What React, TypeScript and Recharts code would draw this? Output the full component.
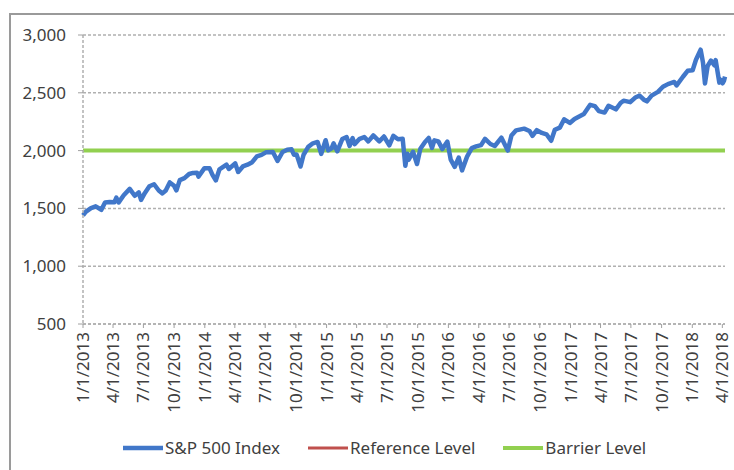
import { CartesianGrid, Line, LineChart, XAxis, YAxis } from 'recharts';

// S&P 500 closes (approximate)
const spxDates = [
    '2013-01-01', '2013-01-10', '2013-01-25', '2013-02-08', '2013-02-25', '2013-03-08', '2013-03-22',
    '2013-04-05', '2013-04-11', '2013-04-18', '2013-05-03', '2013-05-21', '2013-06-05', '2013-06-17',
    '2013-06-24', '2013-07-05', '2013-07-19', '2013-08-02', '2013-08-16', '2013-08-27', '2013-09-06',
    '2013-09-18', '2013-10-01', '2013-10-08', '2013-10-18', '2013-11-01', '2013-11-15', '2013-11-27',
    '2013-12-09', '2013-12-13', '2013-12-31', '2014-01-15', '2014-01-24', '2014-02-03', '2014-02-14',
    '2014-03-07', '2014-03-14', '2014-04-02', '2014-04-11', '2014-04-25', '2014-05-09', '2014-05-23',
    '2014-06-06', '2014-06-20', '2014-07-03', '2014-07-24', '2014-08-07', '2014-08-22', '2014-09-05',
    '2014-09-18', '2014-09-25', '2014-10-03', '2014-10-15', '2014-10-24', '2014-11-07', '2014-11-21',
    '2014-12-05', '2014-12-16', '2014-12-29', '2015-01-06', '2015-01-16', '2015-01-22', '2015-02-02',
    '2015-02-17', '2015-03-02', '2015-03-11', '2015-03-20', '2015-03-26', '2015-04-10', '2015-04-24',
    '2015-05-06', '2015-05-21', '2015-06-08', '2015-06-22', '2015-07-08', '2015-07-20', '2015-08-03',
    '2015-08-17', '2015-08-25', '2015-08-31', '2015-09-04', '2015-09-17', '2015-09-29', '2015-10-09',
    '2015-10-23', '2015-11-03', '2015-11-13', '2015-11-20', '2015-12-02', '2015-12-14', '2015-12-29',
    '2016-01-08', '2016-01-20', '2016-02-01', '2016-02-11', '2016-02-26', '2016-03-11', '2016-03-24',
    '2016-04-08', '2016-04-20', '2016-05-06', '2016-05-19', '2016-06-08', '2016-06-27', '2016-07-08',
    '2016-07-22', '2016-08-15', '2016-08-31', '2016-09-09', '2016-09-22', '2016-10-07', '2016-10-21',
    '2016-11-04', '2016-11-15', '2016-11-30', '2016-12-13', '2016-12-30', '2017-01-13', '2017-01-27',
    '2017-02-10', '2017-03-01', '2017-03-15', '2017-03-27', '2017-04-13', '2017-04-25', '2017-05-17',
    '2017-05-31', '2017-06-09', '2017-06-29', '2017-07-14', '2017-07-27', '2017-08-10', '2017-08-18',
    '2017-09-01', '2017-09-20', '2017-10-05', '2017-10-20', '2017-11-08', '2017-11-15', '2017-12-04',
    '2017-12-18', '2018-01-02', '2018-01-12', '2018-01-26', '2018-02-02', '2018-02-08', '2018-02-16',
    '2018-02-26', '2018-03-08', '2018-03-12', '2018-03-23', '2018-03-28', '2018-04-02', '2018-04-06',
    '2018-04-09',
];

const spxValues = [
    1440, 1472, 1503, 1518, 1488, 1551, 1556,
    1553, 1593, 1552, 1614, 1669, 1609, 1639,
    1573, 1632, 1692, 1709, 1655, 1630, 1655,
    1725, 1695, 1656, 1745, 1762, 1798, 1807,
    1808, 1775, 1848, 1848, 1790, 1742, 1838,
    1878, 1841, 1890, 1815, 1863, 1878, 1900,
    1950, 1963, 1985, 1988, 1910, 1988, 2007,
    2011, 1965, 1967, 1862, 1964, 2032, 2063,
    2075, 1972, 2090, 2002, 2019, 2063, 1994,
    2100, 2117, 2040, 2108, 2056, 2102, 2117,
    2080, 2131, 2080, 2122, 2046, 2128, 2098,
    2102, 1868, 1972, 1921, 1990, 1884, 2015,
    2075, 2109, 2023, 2089, 2080, 2013, 2078,
    1922, 1859, 1940, 1829, 1948, 2022, 2036,
    2047, 2102, 2057, 2040, 2112, 2000, 2130,
    2175, 2190, 2170, 2127, 2177, 2153, 2141,
    2085, 2180, 2199, 2271, 2239, 2274, 2295,
    2316, 2396, 2385, 2342, 2329, 2388, 2357,
    2412, 2432, 2419, 2459, 2475, 2438, 2426,
    2476, 2508, 2552, 2575, 2594, 2564, 2639,
    2690, 2695, 2786, 2873, 2762, 2581, 2732,
    2779, 2738, 2783, 2588, 2612, 2582, 2604,
    2640,
];

const referenceLevel = 2000;
const barrierLevel = 2000;

const tickDates = [
    '2013-01-01', '2013-04-01', '2013-07-01', '2013-10-01',
    '2014-01-01', '2014-04-01', '2014-07-01', '2014-10-01',
    '2015-01-01', '2015-04-01', '2015-07-01', '2015-10-01',
    '2016-01-01', '2016-04-01', '2016-07-01', '2016-10-01',
    '2017-01-01', '2017-04-01', '2017-07-01', '2017-10-01',
    '2018-01-01', '2018-04-01',
];
const yTicks = [500, 1000, 1500, 2000, 2500, 3000];

const series = [
    { key: 'spx', name: 'S&P 500 Index', color: '#4177c9', width: 4.5 },
    { key: 'ref', name: 'Reference Level', color: '#c0504d', width: 3 },
    { key: 'barrier', name: 'Barrier Level', color: '#92d050', width: 4 },
];

const ts = (s: string) => {
    const [y, m, d] = s.split('-').map(Number);
    return Date.UTC(y, m - 1, d);
};

const data = spxDates.map((d, i) => ({
    t: ts(d),
    spx: spxValues[i],
    ref: referenceLevel,
    barrier: barrierLevel,
}));

const fmtDate = (v: number) => {
    const d = new Date(v);
    return `${d.getUTCMonth() + 1}/${d.getUTCDate()}/${d.getUTCFullYear()}`;
};

const FONT = '"Noto Sans", sans-serif';
const TEXT = '#404040';

const DateTick = ({ x, y, payload }: any) => (
    <g transform={`translate(${x},${y})`}>
        <text x={0} y={6} transform="rotate(-90)" textAnchor="end" fill={TEXT} fontSize={17} fontFamily={FONT}>
            {fmtDate(payload.value)}
        </text>
    </g>
);

export default function App() {
    return (
        <div style={{ position: 'fixed', left: 0, top: 0, width: 734, height: 470, overflow: 'hidden', background: '#fff' }}>
            <div style={{ position: 'absolute', left: 9, top: 13, width: 800, height: 500, border: '2px solid #9a9a9a' }} />
            <div style={{ position: 'absolute', left: 0, top: 0 }}>
                <LineChart width={734} height={470} data={data} margin={{ top: 35, right: 9, left: 23, bottom: 46 }}>
                    <CartesianGrid vertical={false} stroke="#b0b0b0" strokeDasharray="3 2" strokeWidth={1.5} />
                    <XAxis
                        dataKey="t"
                        type="number"
                        domain={[ts('2013-01-01'), ts('2018-04-09')]}
                        ticks={tickDates.map(ts)}
                        tick={<DateTick />}
                        height={100}
                        tickSize={4}
                        tickMargin={4}
                        interval={0}
                        axisLine={{ stroke: '#b0b0b0', strokeDasharray: '3 2', strokeWidth: 1.5 }}
                        tickLine={{ stroke: '#a0a0a0' }}
                    />
                    <YAxis
                        width={60}
                        domain={[500, 3000]}
                        ticks={yTicks}
                        tickSize={5}
                        tickMargin={12}
                        tickFormatter={(v) => v.toLocaleString('en-US')}
                        tick={{ fill: TEXT, fontSize: 17, fontFamily: FONT }}
                        axisLine={{ stroke: '#b0b0b0', strokeDasharray: '3 2', strokeWidth: 1.5 }}
                        tickLine={{ stroke: '#a0a0a0' }}
                    />
                    <Line dataKey="ref" stroke="#c0504d" strokeWidth={3} dot={false} isAnimationActive={false} />
                    <Line dataKey="barrier" stroke="#92d050" strokeWidth={4} dot={false} isAnimationActive={false} />
                    <Line dataKey="spx" stroke="#4177c9" strokeWidth={4.5} strokeLinejoin="round" dot={false} isAnimationActive={false} />
                </LineChart>
            </div>
            <div
                style={{
                    position: 'absolute', left: 123, top: 436, display: 'flex', alignItems: 'center', gap: 28,
                    fontFamily: FONT, fontSize: 17, color: TEXT, whiteSpace: 'nowrap',
                }}
            >
                {series.map((s) => (
                    <div key={s.key} style={{ display: 'flex', alignItems: 'center' }}>
                        <svg width={40} height={6} style={{ marginRight: 2 }}>
                            <line x1={0} y1={3} x2={40} y2={3} stroke={s.color} strokeWidth={s.width} />
                        </svg>
                        <span>{s.name}</span>
                    </div>
                ))}
            </div>
        </div>
    );
}
